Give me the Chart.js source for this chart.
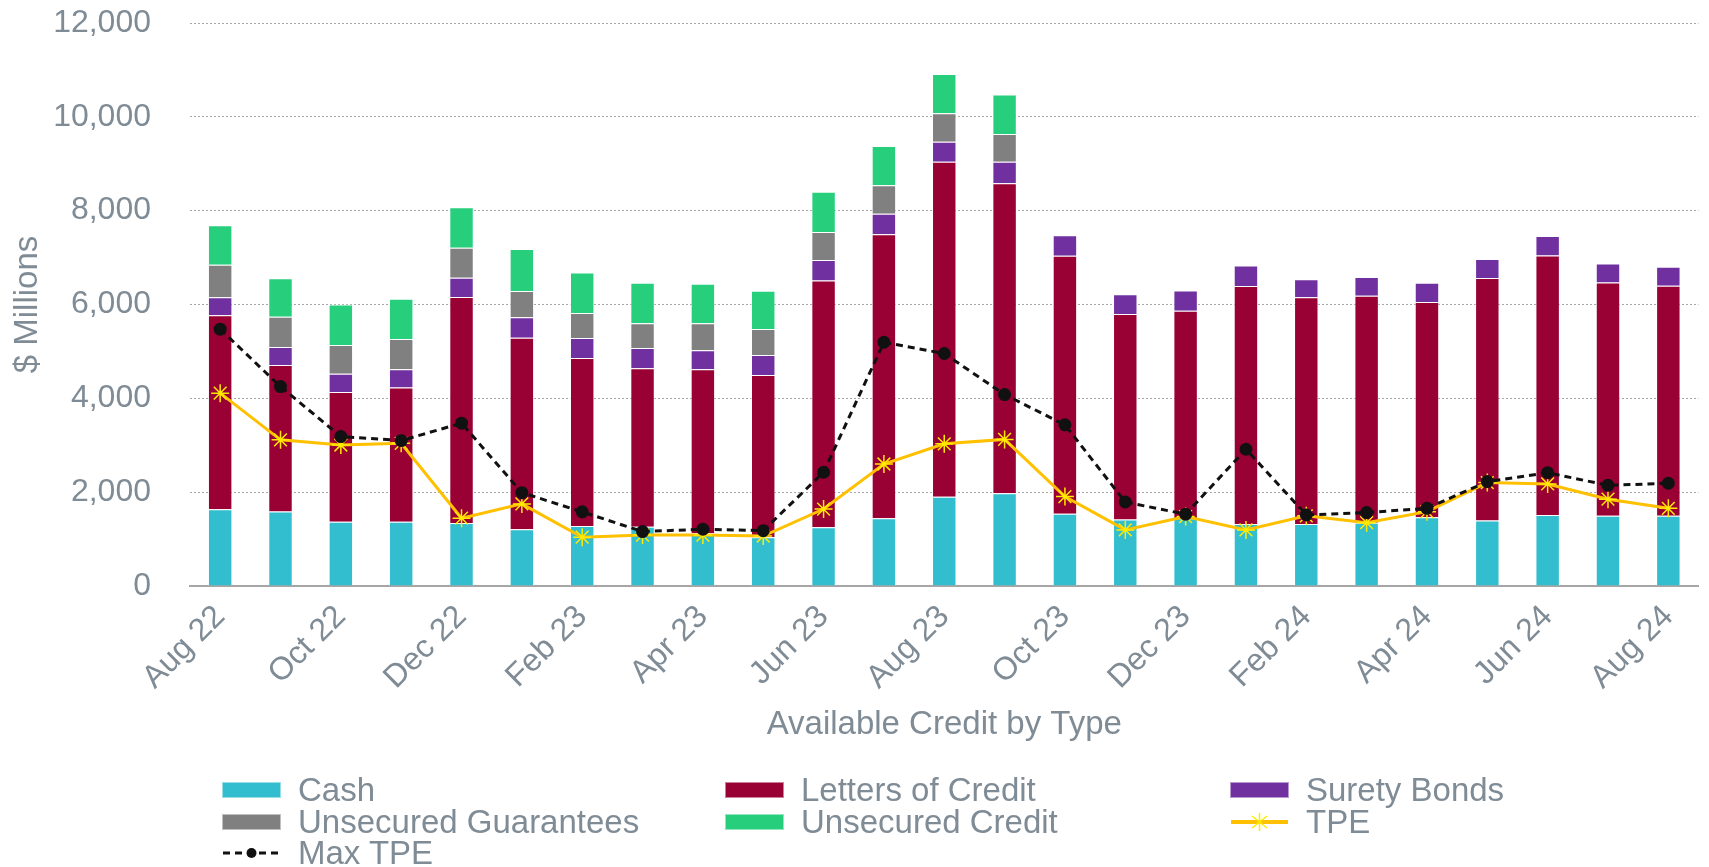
<!DOCTYPE html>
<html>
<head>
<meta charset="utf-8">
<script src="https://cdn.jsdelivr.net/npm/chart.js@4/dist/chart.umd.min.js"></script>
<style>
  html, body { margin: 0; padding: 0; background: #fff; }
  #wrap { position: relative; width: 1709px; height: 867px; }
  #legend {
    position: absolute; left: 222px; top: 774px;
    display: grid; grid-template-columns: 503px 505px auto;
    font-family: 'Liberation Sans', Arial, sans-serif; font-size: 33px; color: #7F8B95;
    line-height: 31.7px;
  }
  .item { display: flex; align-items: center; height: 31.7px; white-space: nowrap; }
  .mark { width: 59px; height: 16px; margin-right: 17px; flex: none; box-sizing: border-box; }
  svg.mark { height: 24px; }
</style>
</head>
<body>
<div id="wrap">
  <canvas id="myChart" width="1709" height="867"></canvas>
  <div id="legend"></div>
</div>
<script>
const labels = ['Aug 22', 'Sep 22', 'Oct 22', 'Nov 22', 'Dec 22', 'Jan 23', 'Feb 23', 'Mar 23', 'Apr 23',
    'May 23', 'Jun 23', 'Jul 23', 'Aug 23', 'Sep 23', 'Oct 23', 'Nov 23', 'Dec 23', 'Jan 24', 'Feb 24',
    'Mar 24', 'Apr 24', 'May 24', 'Jun 24', 'Jul 24', 'Aug 24'];

// $ millions
const cash = [1635, 1590, 1370, 1370, 1345, 1210, 1280, 1265, 1125, 1040, 1250, 1445, 1900,
    1975, 1540, 1420, 1445, 1320, 1320, 1350, 1465, 1395, 1515, 1495, 1495];
const lettersOfCredit = [4135, 3120, 2765, 2860, 4815, 4080, 3580, 3375, 3495, 3460, 5260, 6055, 7145,
    6610, 5500, 4380, 4420, 5075, 4835, 4835, 4590, 5170, 5530, 4975, 4905];
const suretyBonds = [385, 385, 390, 390, 410, 440, 425, 435, 405, 425, 440, 435, 425,
    455, 435, 420, 435, 435, 385, 400, 410, 405, 415, 405, 405];
const unsecuredGuarantees = [690, 645, 610, 645, 640, 560, 535, 525, 575, 555, 595, 605, 605,
    595, null, null, null, null, null, null, null, null, null, null, null];
const unsecuredCredit = [845, 820, 865, 860, 865, 895, 860, 865, 840, 815, 860, 840, 840,
    840, null, null, null, null, null, null, null, null, null, null, null];
const tpe = [4110, 3115, 3005, 3040, 1445, 1750, 1040, 1085, 1085, 1065, 1640, 2600, 3030,
    3125, 1905, 1195, 1480, 1195, 1495, 1350, 1585, 2205, 2175, 1850, 1655];
const maxTpe = [5475, 4250, 3185, 3100, 3470, 1990, 1580, 1160, 1210, 1180, 2425, 5195, 4955,
    4080, 3435, 1790, 1530, 2915, 1515, 1565, 1655, 2225, 2415, 2145, 2190];

const textColor = '#7F8B95';
const font = 'Liberation Sans';

const bar = (label, data, color) => ({
    type: 'bar', label, data, backgroundColor: color,
    borderColor: 'rgba(255,255,255,0.55)', borderWidth: 1,
    barPercentage: 0.5, categoryPercentage: 0.81, order: 2,
});

const datasets = [
    bar('Cash', cash, '#33BECF'),
    bar('Letters of Credit', lettersOfCredit, '#990033'),
    bar('Surety Bonds', suretyBonds, '#7030A0'),
    bar('Unsecured Guarantees', unsecuredGuarantees, '#808080'),
    bar('Unsecured Credit', unsecuredCredit, '#27CF7D'),
    {
        type: 'line', label: 'TPE', data: tpe, stack: 'tpe', order: 1,
        borderColor: '#FFC000', borderWidth: 3, tension: 0,
        pointStyle: 'star', pointRadius: 9, pointBorderColor: '#FFEA00', pointBorderWidth: 1.5,
        pointBackgroundColor: '#FFEA00',
    },
    {
        type: 'line', label: 'Max TPE', data: maxTpe, stack: 'max', order: 0,
        borderColor: '#111', borderWidth: 3, borderDash: [7, 5], tension: 0,
        pointStyle: 'circle', pointRadius: 5, pointBackgroundColor: '#111', pointBorderColor: '#111',
    },
];

const myChart = new Chart(document.getElementById('myChart'), {
    data: { labels, datasets },
    options: {
        responsive: false,
        animation: false,
        layout: { padding: { left: 8, right: 7, top: 23, bottom: 120 } },
        plugins: { legend: { display: false }, tooltip: { enabled: false } },
        scales: {
            x: {
                stacked: true,
                grid: { display: false },
                border: { display: true, color: '#A6A6A6', width: 2 },
                ticks: {
                    color: textColor, font: { family: font, size: 32 },
                    autoSkip: false, minRotation: 45, maxRotation: 45, padding: 4,
                    callback: function (v, i) { return i % 2 === 0 ? this.getLabelForValue(v) : ''; },
                },
                title: {
                    display: true, text: 'Available Credit by Type', color: textColor,
                    font: { family: font, size: 33 }, padding: { top: 0, bottom: 2 },
                },
                afterFit: (scale) => { scale.height = 161; },
            },
            y: {
                stacked: true, min: 0, max: 12000,
                ticks: {
                    stepSize: 2000, color: textColor, font: { family: font, size: 32 }, padding: 3,
                    callback: (v) => new Intl.NumberFormat('en-US').format(v),
                },
                // transparent tick marks push the labels away from the plot
                grid: { color: '#A6A6A6', lineWidth: 1, drawTicks: true, tickLength: 36, tickColor: 'rgba(0,0,0,0)' },
                border: { display: false, dash: [2, 2] },
                title: {
                    display: true, text: '$ Millions', color: textColor,
                    font: { family: font, size: 33 }, padding: { top: 0, bottom: 0 },
                },
                afterFit: (scale) => { scale.width = 182; },
            },
        },
    },
});

// legend in three columns, like the original
const legendOrder = ['Cash', 'Letters of Credit', 'Surety Bonds', 'Unsecured Guarantees',
    'Unsecured Credit', 'TPE', 'Max TPE'];
const legendEl = document.getElementById('legend');
legendOrder.forEach(name => {
    const ds = datasets.find(d => d.label === name);
    let mark;
    if (name === 'TPE') {
        mark = '<svg class="mark" viewBox="0 0 59 24"><line x1="1" y1="12" x2="58" y2="12" stroke="#FFC000" stroke-width="4"/>' +
            '<g stroke="#FFEA00" stroke-width="1.5"><line x1="29.5" y1="3" x2="29.5" y2="21"/>' +
            '<line x1="22" y1="6" x2="37" y2="18"/><line x1="22" y1="18" x2="37" y2="6"/></g></svg>';
    } else if (name === 'Max TPE') {
        mark = '<svg class="mark" viewBox="0 0 59 24"><line x1="1" y1="12" x2="58" y2="12" stroke="#111" stroke-width="3" stroke-dasharray="7 5"/>' +
            '<circle cx="29.5" cy="12" r="5" fill="#111"/></svg>';
    } else {
        mark = `<span class="mark" style="background:${ds.backgroundColor};border:1px solid rgba(255,255,255,0.5)"></span>`;
    }
    const div = document.createElement('div');
    div.className = 'item';
    div.innerHTML = mark + `<span>${name}</span>`;
    legendEl.appendChild(div);
});
</script>
</body>
</html>
